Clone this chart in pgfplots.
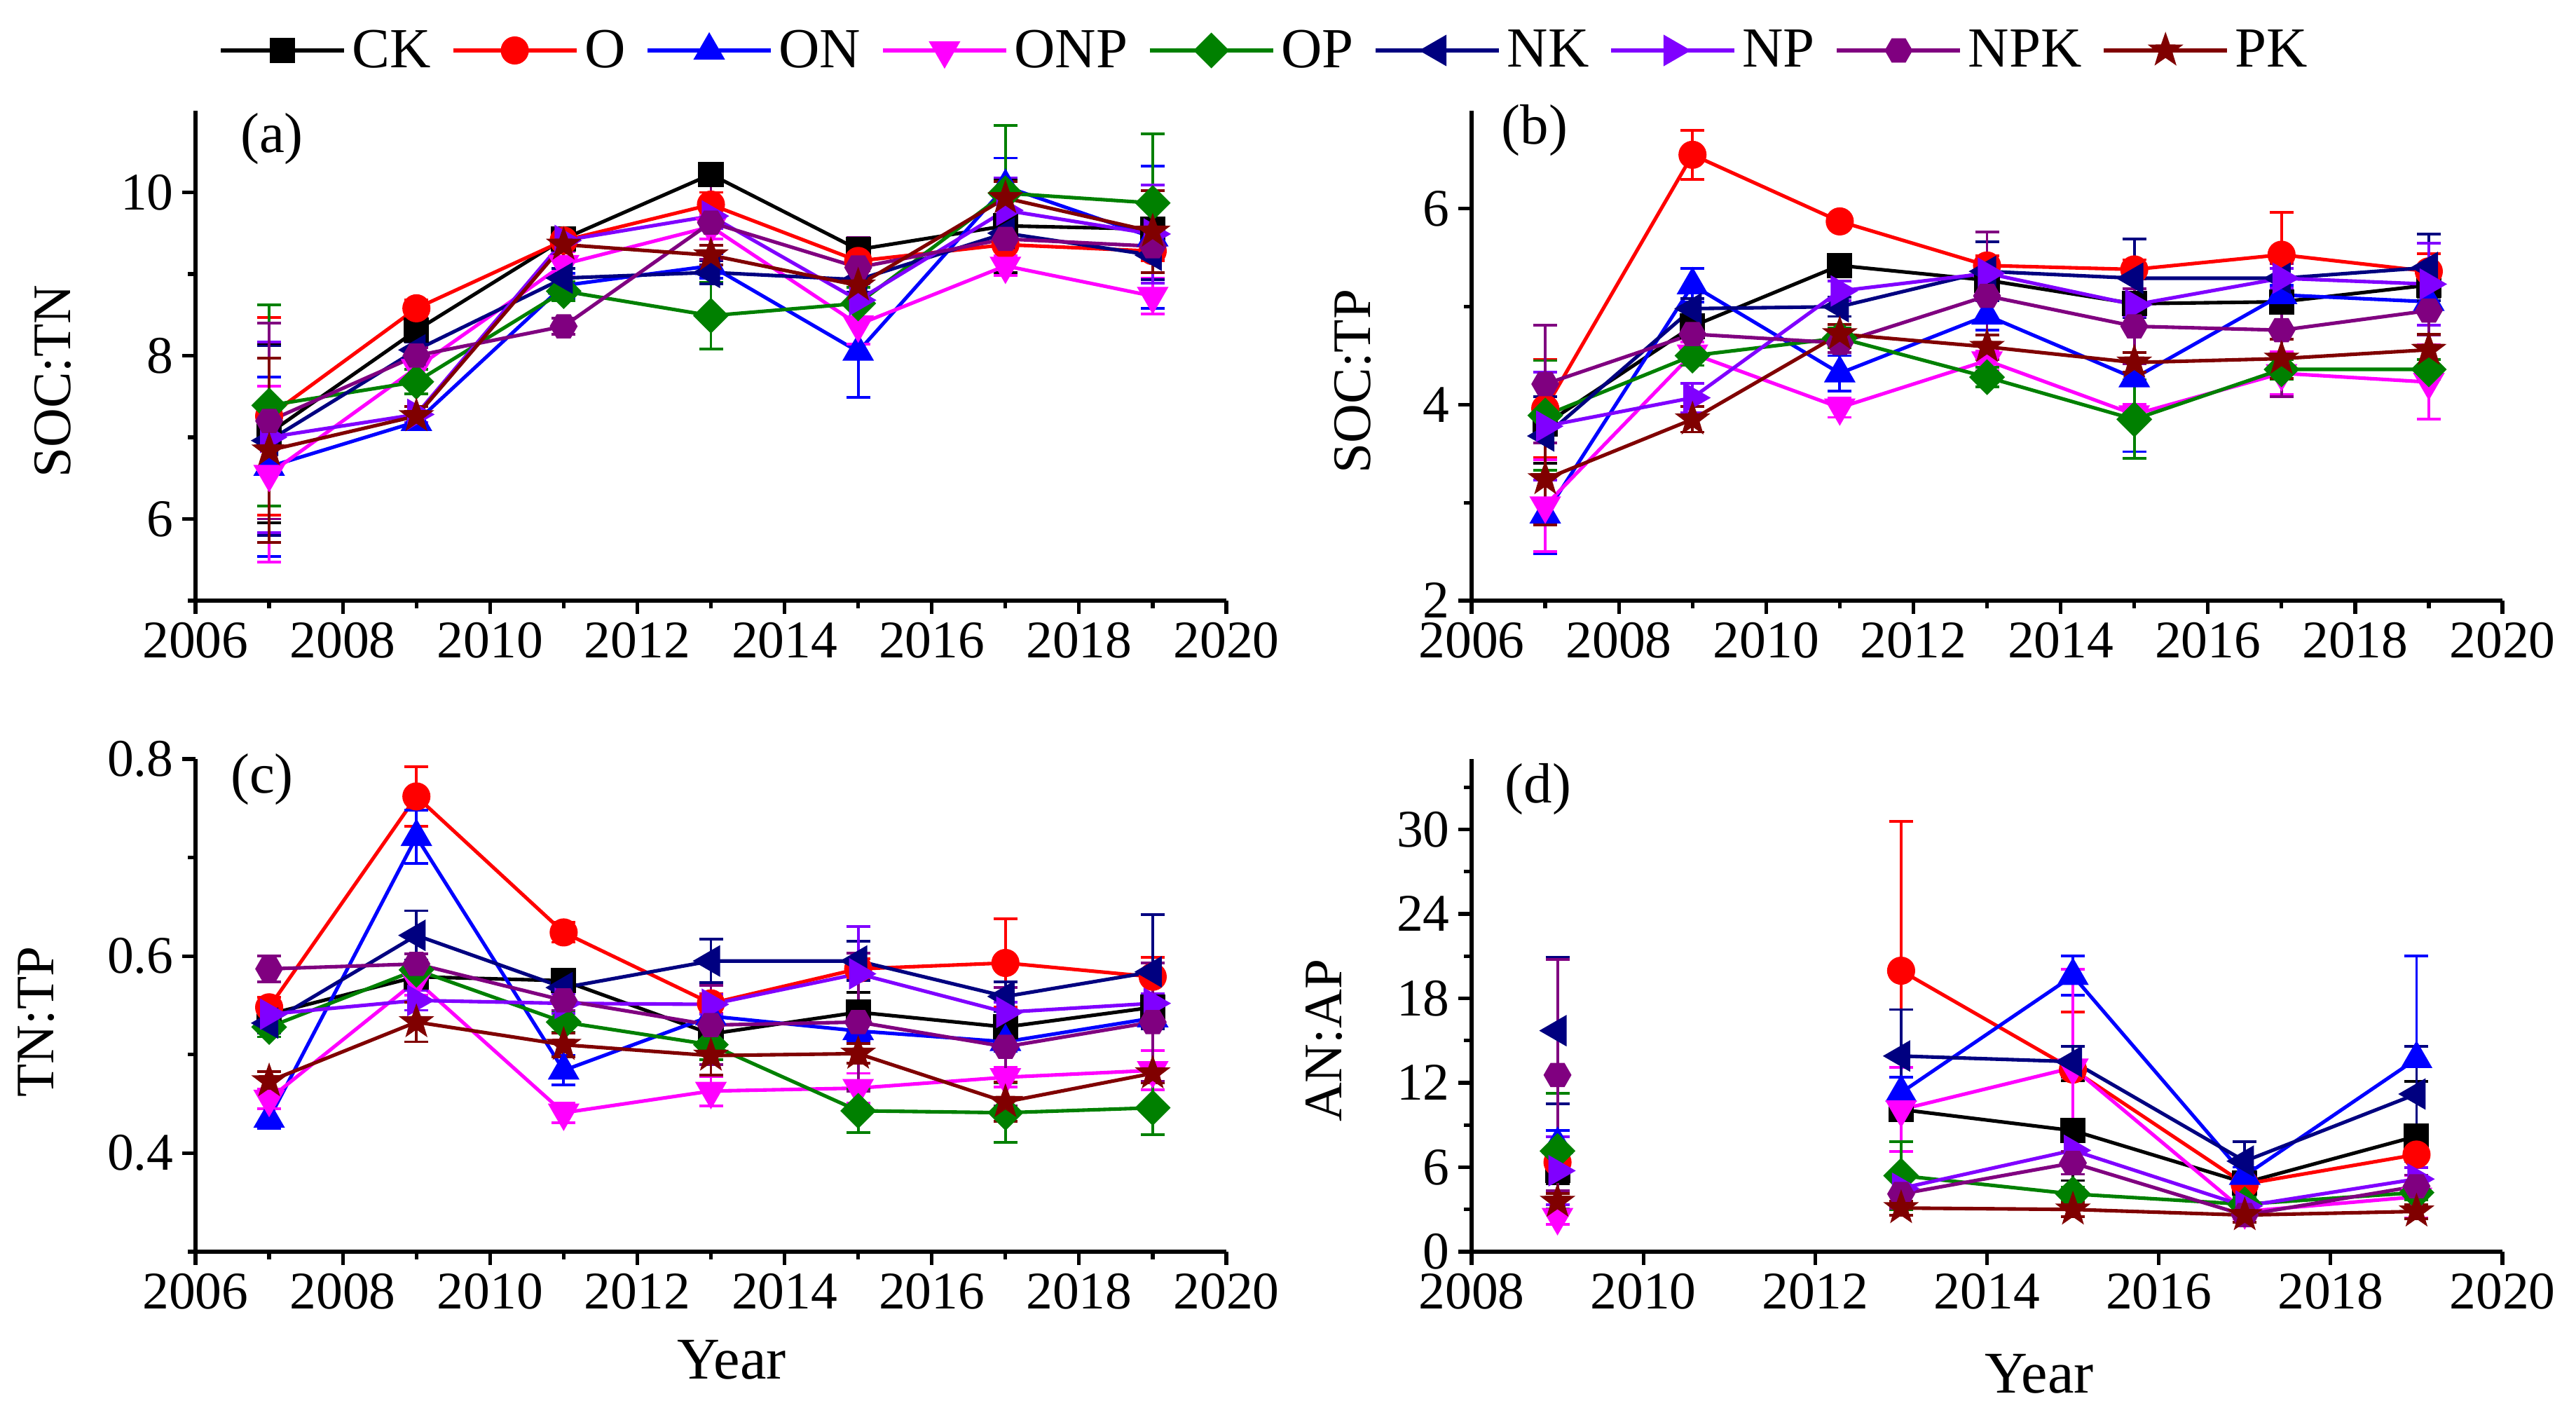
\documentclass[border=0pt]{standalone}
\usepackage{fontspec}
\setmainfont{Liberation Serif}
\usepackage{pgfplots}
\pgfplotsset{compat=1.18}
\usetikzlibrary{plotmarks}

\definecolor{cCK}{RGB}{0,0,0}
\definecolor{cO}{RGB}{255,0,0}
\definecolor{cON}{RGB}{0,0,255}
\definecolor{cONP}{RGB}{255,0,255}
\definecolor{cOP}{RGB}{0,128,0}
\definecolor{cNK}{RGB}{0,0,128}
\definecolor{cNP}{RGB}{128,0,255}
\definecolor{cNPK}{RGB}{128,0,128}
\definecolor{cPK}{RGB}{128,0,0}

% filled hexagon and five-point star
\pgfdeclareplotmark{hexagon*}{%
  \pgfpathmoveto{\pgfpointpolar{0}{\pgfplotmarksize}}%
  \pgfpathlineto{\pgfpointpolar{60}{\pgfplotmarksize}}%
  \pgfpathlineto{\pgfpointpolar{120}{\pgfplotmarksize}}%
  \pgfpathlineto{\pgfpointpolar{180}{\pgfplotmarksize}}%
  \pgfpathlineto{\pgfpointpolar{240}{\pgfplotmarksize}}%
  \pgfpathlineto{\pgfpointpolar{300}{\pgfplotmarksize}}%
  \pgfpathclose\pgfusepathqfillstroke}
\pgfdeclareplotmark{star5*}{%
  \pgfpathmoveto{\pgfpointpolar{90}{\pgfplotmarksize}}%
  \pgfpathlineto{\pgfpointpolar{126}{0.4\pgfplotmarksize}}%
  \pgfpathlineto{\pgfpointpolar{162}{\pgfplotmarksize}}%
  \pgfpathlineto{\pgfpointpolar{198}{0.4\pgfplotmarksize}}%
  \pgfpathlineto{\pgfpointpolar{234}{\pgfplotmarksize}}%
  \pgfpathlineto{\pgfpointpolar{270}{0.4\pgfplotmarksize}}%
  \pgfpathlineto{\pgfpointpolar{306}{\pgfplotmarksize}}%
  \pgfpathlineto{\pgfpointpolar{342}{0.4\pgfplotmarksize}}%
  \pgfpathlineto{\pgfpointpolar{18}{\pgfplotmarksize}}%
  \pgfpathlineto{\pgfpointpolar{54}{0.4\pgfplotmarksize}}%
  \pgfpathclose\pgfusepathqfillstroke}

\newcommand{\tickfont}{\fontsize{21.5}{24}\selectfont}

\pgfplotsset{
  panel/.style={
    scale only axis, width=14.71cm, anchor=south west,
    axis lines*=left, axis line style={line width=1.5pt},
    tick align=outside, tick style={line width=1.5pt, color=black},
    major tick length=0.19cm, minor tick length=0.11cm,
    ticklabel style={font=\tickfont},
    /pgf/number format/assume math mode=true,
    /pgf/number format/1000 sep={},
    clip=false,
  },
  ser/.style={
    line width=1.45pt, color=#1, mark size=0.21cm,
    error bars/y dir=both, error bars/y explicit,
    error bars/error bar style={line width=1.1pt, color=#1},
    error bars/error mark options={rotate=90, mark size=0.17cm, line width=1.1pt, color=#1},
  },
  sCK/.style={ser=cCK, mark=square*, mark size=0.155cm, mark options={solid, fill=cCK}},
  sO/.style={ser=cO, mark=*, mark size=0.175cm, mark options={solid, fill=cO}},
  sON/.style={ser=cON, mark=triangle*, mark options={solid, fill=cON}},
  sONP/.style={ser=cONP, mark=triangle*, mark options={solid, fill=cONP, rotate=180}},
  sOP/.style={ser=cOP, mark=square*, mark size=0.155cm, mark options={solid, fill=cOP, rotate=45}},
  sNK/.style={ser=cNK, mark=triangle*, mark options={solid, fill=cNK, rotate=90}},
  sNP/.style={ser=cNP, mark=triangle*, mark options={solid, fill=cNP, rotate=-90}},
  sNPK/.style={ser=cNPK, mark=hexagon*, mark size=0.17cm, mark options={solid, fill=cNPK}},
  sPK/.style={ser=cPK, mark=star5*, mark size=0.19cm, mark options={solid, fill=cPK}},
}

\begin{document}
\begin{tikzpicture}
\useasboundingbox (0,0) rectangle (36.76,20.19);

% (a) SOC:TN
\begin{axis}[panel, at={(2.79cm,11.62cm)}, height=6.99cm,
  xmin=2006, xmax=2020, xtick={2006,2008,...,2020}, minor x tick num=1,
  ymin=5, ymax=11, ytick={6,8,10}, minor ytick={5,7,9},
  legend columns=9,
  legend style={at={(0.0224,1.123)}, anchor=west, draw=none, fill=none,
    inner sep=0pt, font=\fontsize{23}{26}\selectfont,
    nodes={inner xsep=0.09cm},
    /tikz/every even column/.append style={column sep=0.2cm}},
  legend image code/.code={\draw[mark repeat=2,mark phase=2,#1]
    plot coordinates {(0cm,0cm) (0.88cm,0cm) (1.76cm,0cm)};},
]
\addplot[sCK] coordinates {(2007,7.05) +- (0,1.1) (2009,8.31) +- (0,0.12) (2011,9.43) +- (0,0.1) (2013,10.22) +- (0,0.1) (2015,9.30) +- (0,0.15) (2017,9.59) +- (0,0.57) (2019,9.55) +- (0,0.1)};
\addlegendentry{CK}
\addplot[sO] coordinates {(2007,7.26) +- (0,1.21) (2009,8.58) +- (0,0.1) (2011,9.41) +- (0,0.1) (2013,9.85) +- (0,0.15) (2015,9.16) +- (0,0.2) (2017,9.36) +- (0,0.15) (2019,9.28) +- (0,0.12)};
\addlegendentry{O}
\addplot[sON] coordinates {(2007,6.64) +- (0,1.1) (2009,7.19) +- (0,0.1) (2011,8.86) +- (0,0.15) (2013,9.10) +- (0,0.15) (2015,8.05) +- (0,0.56) (2017,10.07) +- (0,0.35) (2019,9.45) +- (0,0.87)};
\addlegendentry{ON}
\addplot[sONP] coordinates {(2007,6.55) +- (0,1.08) (2009,7.85) +- (0,0.15) (2011,9.12) +- (0,0.15) (2013,9.58) +- (0,0.15) (2015,8.38) +- (0,0.24) (2017,9.10) +- (0,0.12) (2019,8.73) +- (0,0.22)};
\addlegendentry{ONP}
\addplot[sOP] coordinates {(2007,7.39) +- (0,1.23) (2009,7.68) +- (0,0.15) (2011,8.79) +- (0,0.12) (2013,8.49) +- (0,0.41) (2015,8.64) +- (0,0.2) (2017,9.99) +- (0,0.83) (2019,9.87) +- (0,0.85)};
\addlegendentry{OP}
\addplot[sNK] coordinates {(2007,6.96) +- (0,1.16) (2009,8.07) +- (0,0.1) (2011,8.95) +- (0,0.12) (2013,9.02) +- (0,0.14) (2015,8.93) +- (0,0.15) (2017,9.50) +- (0,0.15) (2019,9.23) +- (0,0.3)};
\addlegendentry{NK}
\addplot[sNP] coordinates {(2007,7.00) +- (0,1.17) (2009,7.28) +- (0,0.1) (2011,9.41) +- (0,0.1) (2013,9.71) +- (0,0.15) (2015,8.68) +- (0,0.2) (2017,9.78) +- (0,0.4) (2019,9.49) +- (0,0.6)};
\addlegendentry{NP}
\addplot[sNPK] coordinates {(2007,7.20) +- (0,1.2) (2009,8.00) +- (0,0.1) (2011,8.36) +- (0,0.1) (2013,9.63) +- (0,0.45) (2015,9.08) +- (0,0.37) (2017,9.43) +- (0,0.15) (2019,9.34) +- (0,0.15)};
\addlegendentry{NPK}
\addplot[sPK] coordinates {(2007,6.84) +- (0,1.13) (2009,7.26) +- (0,0.12) (2011,9.36) +- (0,0.15) (2013,9.23) +- (0,0.12) (2015,8.86) +- (0,0.18) (2017,9.93) +- (0,0.2) (2019,9.52) +- (0,0.5)};
\addlegendentry{PK}
\end{axis}

% (b) SOC:TP
\begin{axis}[panel, at={(21.00cm,11.62cm)}, height=6.99cm,
  xmin=2006, xmax=2020, xtick={2006,2008,...,2020}, minor x tick num=1,
  ymin=2, ymax=7, ytick={2,4,6}, minor ytick={3,5},
]
\addplot[sCK] coordinates {(2007,3.80) +- (0,0.4) (2009,4.80) +- (0,0.12) (2011,5.42) +- (0,0.08) (2013,5.27) +- (0,0.1) (2015,5.03) +- (0,0.12) (2017,5.05) +- (0,0.12) (2019,5.22) +- (0,0.12)};
\addplot[sO] coordinates {(2007,3.96) +- (0,0.5) (2009,6.55) +- (0,0.25) (2011,5.87) +- (0,0.06) (2013,5.42) +- (0,0.1) (2015,5.38) +- (0,0.1) (2017,5.53) +- (0,0.43) (2019,5.36) +- (0,0.18)};
\addplot[sON] coordinates {(2007,2.88) +- (0,0.4) (2009,5.22) +- (0,0.17) (2011,4.32) +- (0,0.18) (2013,4.91) +- (0,0.15) (2015,4.27) +- (0,0.75) (2017,5.12) +- (0,0.1) (2019,5.05) +- (0,0.12)};
\addplot[sONP] coordinates {(2007,2.97) +- (0,0.47) (2009,4.52) +- (0,0.12) (2011,3.97) +- (0,0.1) (2013,4.45) +- (0,0.1) (2015,3.90) +- (0,0.1) (2017,4.32) +- (0,0.22) (2019,4.23) +- (0,0.38)};
\addplot[sOP] coordinates {(2007,3.89) +- (0,0.56) (2009,4.50) +- (0,0.1) (2011,4.68) +- (0,0.1) (2013,4.28) +- (0,0.1) (2015,3.85) +- (0,0.4) (2017,4.36) +- (0,0.1) (2019,4.36) +- (0,0.1)};
\addplot[sNK] coordinates {(2007,3.68) +- (0,0.4) (2009,4.98) +- (0,0.1) (2011,5.00) +- (0,0.1) (2013,5.36) +- (0,0.3) (2015,5.29) +- (0,0.4) (2017,5.29) +- (0,0.1) (2019,5.40) +- (0,0.34)};
\addplot[sNP] coordinates {(2007,3.78) +- (0,0.55) (2009,4.07) +- (0,0.15) (2011,5.16) +- (0,0.1) (2013,5.34) +- (0,0.1) (2015,5.02) +- (0,0.12) (2017,5.29) +- (0,0.1) (2019,5.23) +- (0,0.42)};
\addplot[sNPK] coordinates {(2007,4.21) +- (0,0.6) (2009,4.72) +- (0,0.2) (2011,4.63) +- (0,0.1) (2013,5.11) +- (0,0.65) (2015,4.80) +- (0,0.38) (2017,4.76) +- (0,0.68) (2019,4.96) +- (0,0.25)};
\addplot[sPK] coordinates {(2007,3.24) +- (0,0.47) (2009,3.85) +- (0,0.13) (2011,4.72) +- (0,0.1) (2013,4.59) +- (0,0.12) (2015,4.43) +- (0,0.1) (2017,4.47) +- (0,0.2) (2019,4.56) +- (0,0.16)};
\end{axis}

% (c) TN:TP
\begin{axis}[panel, at={(2.79cm,2.33cm)}, height=7.03cm,
  xmin=2006, xmax=2020, xtick={2006,2008,...,2020}, minor x tick num=1,
  ymin=0.3, ymax=0.8, ytick={0.4,0.6,0.8}, minor ytick={0.3,0.5,0.7},
  yticklabel style={/pgf/number format/.cd, fixed, fixed zerofill, precision=1},
]
\addplot[sCK] coordinates {(2007,0.541) +- (0,0.01) (2009,0.579) +- (0,0.01) (2011,0.575) +- (0,0.01) (2013,0.521) +- (0,0.01) (2015,0.543) +- (0,0.02) (2017,0.528) +- (0,0.01) (2019,0.548) +- (0,0.01)};
\addplot[sO] coordinates {(2007,0.548) +- (0,0.01) (2009,0.762) +- (0,0.03) (2011,0.624) +- (0,0.01) (2013,0.552) +- (0,0.01) (2015,0.587) +- (0,0.01) (2017,0.593) +- (0,0.045) (2019,0.579) +- (0,0.02)};
\addplot[sON] coordinates {(2007,0.435) +- (0,0.01) (2009,0.721) +- (0,0.027) (2011,0.484) +- (0,0.015) (2013,0.539) +- (0,0.01) (2015,0.524) +- (0,0.01) (2017,0.513) +- (0,0.01) (2019,0.537) +- (0,0.01)};
\addplot[sONP] coordinates {(2007,0.455) +- (0,0.01) (2009,0.575) +- (0,0.015) (2011,0.441) +- (0,0.01) (2013,0.463) +- (0,0.015) (2015,0.466) +- (0,0.015) (2017,0.477) +- (0,0.01) (2019,0.484) +- (0,0.02)};
\addplot[sOP] coordinates {(2007,0.528) +- (0,0.01) (2009,0.586) +- (0,0.01) (2011,0.533) +- (0,0.01) (2013,0.510) +- (0,0.015) (2015,0.443) +- (0,0.022) (2017,0.441) +- (0,0.03) (2019,0.446) +- (0,0.027)};
\addplot[sNK] coordinates {(2007,0.532) +- (0,0.01) (2009,0.621) +- (0,0.025) (2011,0.568) +- (0,0.01) (2013,0.595) +- (0,0.022) (2015,0.595) +- (0,0.02) (2017,0.559) +- (0,0.015) (2019,0.584) +- (0,0.058)};
\addplot[sNP] coordinates {(2007,0.541) +- (0,0.01) (2009,0.555) +- (0,0.01) (2011,0.552) +- (0,0.01) (2013,0.551) +- (0,0.01) (2015,0.582) +- (0,0.048) (2017,0.543) +- (0,0.01) (2019,0.552) +- (0,0.01)};
\addplot[sNPK] coordinates {(2007,0.587) +- (0,0.013) (2009,0.592) +- (0,0.01) (2011,0.555) +- (0,0.01) (2013,0.530) +- (0,0.04) (2015,0.533) +- (0,0.07) (2017,0.508) +- (0,0.06) (2019,0.533) +- (0,0.06)};
\addplot[sPK] coordinates {(2007,0.473) +- (0,0.01) (2009,0.533) +- (0,0.02) (2011,0.510) +- (0,0.012) (2013,0.499) +- (0,0.02) (2015,0.501) +- (0,0.01) (2017,0.452) +- (0,0.02) (2019,0.481) +- (0,0.01)};
\end{axis}

% (d) AN:AP
\begin{axis}[panel, at={(21.00cm,2.33cm)}, height=7.03cm,
  xmin=2008, xmax=2020, xtick={2008,2010,...,2020}, minor x tick num=1,
  ymin=0, ymax=35, ytick={0,6,...,30}, minor ytick={3,9,...,33},
  unbounded coords=jump,
]
\addplot[sCK] coordinates {(2009,5.8) +- (0,1.0) (2011,nan) +- (0,0) (2013,10.1) +- (0,0.6) (2015,8.6) +- (0,3.55) (2017,4.9) +- (0,0.5) (2019,8.2) +- (0,3.9)};
\addplot[sO] coordinates {(2009,6.35) +- (0,1.0) (2011,nan) +- (0,0) (2013,19.96) +- (0,10.6) (2015,12.94) +- (0,4.1) (2017,4.8) +- (0,0.5) (2019,6.9) +- (0,2.1)};
\addplot[sON] coordinates {(2009,7.6) +- (0,1.0) (2011,nan) +- (0,0) (2013,11.3) +- (0,1.1) (2015,19.6) +- (0,1.4) (2017,5.4) +- (0,0.6) (2019,13.7) +- (0,7.3)};
\addplot[sONP] coordinates {(2009,2.45) +- (0,0.5) (2011,nan) +- (0,0) (2013,10.1) +- (0,3.0) (2015,13.07) +- (0,7.0) (2017,2.86) +- (0,0.5) (2019,3.9) +- (0,1.5)};
\addplot[sOP] coordinates {(2009,7.15) +- (0,4.1) (2011,nan) +- (0,0) (2013,5.4) +- (0,2.4) (2015,4.1) +- (0,0.5) (2017,3.37) +- (0,0.5) (2019,4.2) +- (0,0.5)};
\addplot[sNK] coordinates {(2009,15.7) +- (0,5.2) (2011,nan) +- (0,0) (2013,13.9) +- (0,3.3) (2015,13.5) +- (0,1.1) (2017,6.43) +- (0,1.4) (2019,11.2) +- (0,3.4)};
\addplot[sNP] coordinates {(2009,5.75) +- (0,2.4) (2011,nan) +- (0,0) (2013,4.5) +- (0,1.0) (2015,7.2) +- (0,0.8) (2017,3.24) +- (0,0.5) (2019,5.16) +- (0,0.8)};
\addplot[sNPK] coordinates {(2009,12.55) +- (0,8.2) (2011,nan) +- (0,0) (2013,4.1) +- (0,1.0) (2015,6.3) +- (0,0.8) (2017,2.6) +- (0,0.5) (2019,4.65) +- (0,0.8)};
\addplot[sPK] coordinates {(2009,3.55) +- (0,0.6) (2011,nan) +- (0,0) (2013,3.1) +- (0,0.5) (2015,3.0) +- (0,0.5) (2017,2.6) +- (0,0.5) (2019,2.86) +- (0,0.5)};
\end{axis}

% labels
\begin{scope}[font=\fontsize{22}{26}\selectfont]
\node[rotate=90] at (0.75,14.75) {SOC:TN};
\node[rotate=90] at (19.30,14.75) {SOC:TP};
\node[rotate=90] at (0.52,5.61) {TN:TP};
\node[rotate=90] at (18.90,5.34) {AN:AP};
\end{scope}
\begin{scope}[font=\fontsize{24}{28}\selectfont]
\node at (10.44,0.79) {Year};
\node at (29.10,0.59) {Year};
\end{scope}
\begin{scope}[font=\fontsize{23}{27}\selectfont]
\node at (3.88,18.21) {(a)};
\node at (21.90,18.33) {(b)};
\node at (3.74,9.07) {(c)};
\node at (21.95,8.93) {(d)};
\end{scope}
\end{tikzpicture}
\end{document}
